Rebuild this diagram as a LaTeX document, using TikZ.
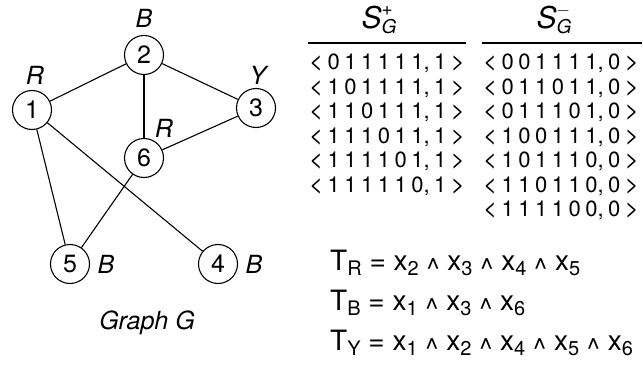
\documentclass[tikz,border=0pt]{standalone}
\usepackage{fontspec}
\setmainfont{TeX Gyre Heros}

% spaced tuple <d1 d2 d3 d4 d5 d6, c>
\newcommand\tgap{\hspace{4.5pt}}
\newcommand\lbr{{\fontsize{24}{22}\selectfont<}}
\newcommand\rbr{{\fontsize{24}{22}\selectfont>}}
\newcommand\tpl[7]{\lbr\tgap#1\tgap#2\tgap#3\tgap#4\tgap#5\tgap#6,\tgap#7\tgap\rbr}
% subscript and conjunction used in the formulas
\newcommand\sbs[1]{\raisebox{-5.8pt}{\fontsize{20}{20}\selectfont#1}}
\newcommand\wg{\raisebox{-8.5pt}{\textasciicircum}}

\tikzset{
  vtx/.style={circle, draw, line width=1.1pt, minimum size=39pt, inner sep=0pt,
              font=\fontsize{25}{25}\selectfont},
  lbl/.style={inner sep=0pt, font=\fontsize{25}{25}\selectfont\itshape},
  edge/.style={line width=1.1pt},
  rule/.style={line width=1.4pt},
  hdr/.style={inner sep=0pt, anchor=base},
  row/.style={inner sep=0pt, anchor=base west, font=\fontsize{22}{22}\selectfont},
  eqn/.style={inner sep=0pt, anchor=base west, font=\fontsize{28}{28}\selectfont}
}

\begin{document}
\begin{tikzpicture}[x=1pt,y=-1pt]
\useasboundingbox (0,0) rectangle (643,369);

% graph vertices
\node[vtx] (n1) at (32,110) {1};
\node[vtx] (n2) at (144,55) {2};
\node[vtx] (n3) at (256,108) {3};
\node[vtx] (n6) at (144,158) {6};
\node[vtx] (n5) at (70,264) {5};
\node[vtx] (n4) at (218,264) {4};

% colour labels
\node[lbl] (c1) at (35,75) {R};
\node[lbl] (c2) at (144,18) {B};
\node[lbl] (c3) at (258,75) {Y};
\node[lbl] (c6) at (164,128) {R};
\node[lbl] (c5) at (106,264) {B};
\node[lbl] (c4) at (254,264) {B};
\node[lbl] (cap) at (147,323) {Graph G};

% graph edges
\draw[edge] (n1) -- (n2);
\draw[edge] (n2) -- (n3);
\draw[edge] (n2) -- (n6);
\draw[edge] (n3) -- (n6);
\draw[edge] (n1) -- (n5);
\draw[edge] (n1) -- (n4);
\draw[edge] (n6) -- (n5);

% table headers
\node[hdr] (hp) at (379,29) {{\fontsize{30}{30}\selectfont\itshape S}\makebox[0pt][l]{\raisebox{13pt}{\fontsize{19}{19}\selectfont +}}\raisebox{-5pt}{\fontsize{19}{19}\selectfont\itshape G}};
\node[hdr] (hm) at (554,29) {{\fontsize{30}{30}\selectfont\itshape S}\makebox[0pt][l]{\raisebox{13pt}{\fontsize{19}{19}\selectfont $-$}}\raisebox{-5pt}{\fontsize{19}{19}\selectfont\itshape G}};
\coordinate (pl) at (308,43);
\coordinate (pr) at (466,43);
\coordinate (ml) at (482,43);
\coordinate (mr) at (642,43);
\draw[rule] (pl) -- (pr);
\draw[rule] (ml) -- (mr);

% positive examples
\node[row] (p1) at (309,69.8)  {\tpl{0}{1}{1}{1}{1}{1}{1}};
\node[row] (p2) at (309,94.3)  {\tpl{1}{0}{1}{1}{1}{1}{1}};
\node[row] (p3) at (309,118.8) {\tpl{1}{1}{0}{1}{1}{1}{1}};
\node[row] (p4) at (309,143.3) {\tpl{1}{1}{1}{0}{1}{1}{1}};
\node[row] (p5) at (309,167.8) {\tpl{1}{1}{1}{1}{0}{1}{1}};
\node[row] (p6) at (309,192.3) {\tpl{1}{1}{1}{1}{1}{0}{1}};

% negative examples
\node[row] (m1) at (483,69.8)  {\tpl{0}{0}{1}{1}{1}{1}{0}};
\node[row] (m2) at (483,94.3)  {\tpl{0}{1}{1}{0}{1}{1}{0}};
\node[row] (m3) at (483,118.8) {\tpl{0}{1}{1}{1}{0}{1}{0}};
\node[row] (m4) at (483,143.3) {\tpl{1}{0}{0}{1}{1}{1}{0}};
\node[row] (m5) at (483,167.8) {\tpl{1}{0}{1}{1}{1}{0}{0}};
\node[row] (m6) at (483,192.3) {\tpl{1}{1}{0}{1}{1}{0}{0}};
\node[row] (m7) at (483,216.8) {\tpl{1}{1}{1}{1}{0}{0}{0}};

% learned terms
\node[eqn] (tr) at (330,270) {T\sbs{R} = x\sbs{2} \wg{} x\sbs{3} \wg{} x\sbs{4} \wg{} x\sbs{5}};
\node[eqn] (tb) at (330,310) {T\sbs{B} = x\sbs{1} \wg{} x\sbs{3} \wg{} x\sbs{6}};
\node[eqn] (ty) at (330,350) {T\sbs{Y} = x\sbs{1} \wg{} x\sbs{2} \wg{} x\sbs{4} \wg{} x\sbs{5} \wg{} x\sbs{6}};
\end{tikzpicture}
\end{document}
